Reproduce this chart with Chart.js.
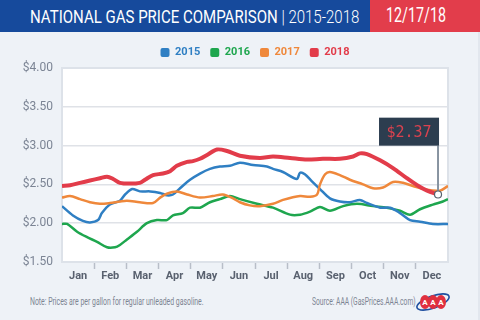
<!DOCTYPE html>
<html lang="en">
<head>
<meta charset="UTF-8">
<title>National Gas Price Comparison 2015-2018</title>
<script src="https://cdn.jsdelivr.net/npm/chart.js@4.4.1/dist/chart.umd.min.js"></script>
<style>
    body { margin: 0; width: 480px; height: 320px; background: #eef2f7; position: relative; overflow: hidden;
           font-family: "Roboto", "Noto Sans", sans-serif; }
    .edge { position: absolute; right: 0; top: 32px; width: 2px; height: 288px; background: #e2e7ee; }
    .header { position: absolute; left: 0; top: 0; width: 480px; height: 32px; background: #164a9c; }
    .header .title { position: absolute; left: 30px; top: 5px; color: #fff; font-size: 19px; white-space: nowrap;
                     transform: scaleX(0.79); transform-origin: left center; }
    .header .title span { font-weight: 300; }
    .header .date { position: absolute; right: 0; top: 0; width: 110px; height: 32px; background: #e23d4b; }
    .header .date-text { position: absolute; left: 386px; top: 3px; color: #fff; font-size: 21px; white-space: nowrap;
                         transform: scaleX(0.68); transform-origin: left center; }
    .chart-wrap { position: absolute; left: 0; top: 32px; width: 480px; height: 258px; }
    .note { position: absolute; left: 30px; top: 296px; font-size: 10px; color: #7d8593; white-space: nowrap;
            transform: scaleX(0.69); transform-origin: left center; }
    .source { position: absolute; left: 312px; top: 296px; font-size: 10px; color: #7d8593; white-space: nowrap;
              transform: scaleX(0.67); transform-origin: left center; }
    .logo { position: absolute; left: 414px; top: 290px; }
</style>
</head>
<body>
    <div class="edge"></div>
    <div class="header">
        <div class="title">NATIONAL GAS PRICE COMPARISON <span>| 2015-2018</span></div>
        <div class="date"></div>
        <div class="date-text">12/17/18</div>
    </div>
    <div class="chart-wrap"><canvas id="gasChart" width="480" height="258"></canvas></div>
    <div class="note">Note: Prices are per gallon for regular unleaded gasoline.</div>
    <div class="source">Source: AAA (GasPrices.AAA.com)</div>
    <svg class="logo" width="38" height="24" viewBox="0 0 38 24">
        <ellipse cx="19" cy="12" rx="17" ry="6" transform="rotate(-20 19 12)" fill="none" stroke="#1f4fa0" stroke-width="1.6"/>
        <ellipse cx="11" cy="12" rx="5" ry="7" fill="#e0303f"/>
        <ellipse cx="19" cy="12" rx="5" ry="7" fill="#e0303f"/>
        <ellipse cx="27" cy="12" rx="5" ry="7" fill="#e0303f"/>
        <text x="11" y="15" font-size="8" font-weight="bold" fill="#fff" text-anchor="middle">A</text>
        <text x="19" y="15" font-size="8" font-weight="bold" fill="#fff" text-anchor="middle">A</text>
        <text x="27" y="15" font-size="8" font-weight="bold" fill="#fff" text-anchor="middle">A</text>
    </svg>

<script>
// months along the x axis (0 = Jan 1, 12 = Dec 31)
const months = ['Jan', 'Feb', 'Mar', 'Apr', 'May', 'Jun', 'Jul', 'Aug', 'Sep', 'Oct', 'Nov', 'Dec'];
const yTicks = [1.5, 2.0, 2.5, 3.0, 3.5, 4.0];

// 2015
const t2015 = [0.00, 0.34, 0.65, 0.87, 1.12, 1.24, 1.49, 1.80, 1.96, 2.18, 2.42, 2.74, 3.05, 3.26, 3.45, 3.67, 3.98, 4.29, 4.60, 4.91, 5.22, 5.53, 5.94, 6.37, 6.56, 6.87, 7.30, 7.40, 7.55, 7.77, 8.02, 8.33, 8.64, 8.95, 9.26, 9.48, 9.89, 10.20, 10.51, 10.82, 11.13, 11.53, 12.00];
const p2015 = [2.22, 2.10, 2.03, 2.01, 2.04, 2.13, 2.24, 2.29, 2.37, 2.44, 2.41, 2.41, 2.39, 2.36, 2.37, 2.45, 2.56, 2.64, 2.70, 2.73, 2.74, 2.78, 2.75, 2.73, 2.70, 2.66, 2.57, 2.65, 2.63, 2.54, 2.44, 2.32, 2.28, 2.27, 2.30, 2.26, 2.20, 2.20, 2.13, 2.04, 2.02, 1.99, 1.99];

// 2016
const t2016 = [0.00, 0.16, 0.47, 0.78, 1.09, 1.40, 1.65, 1.80, 2.02, 2.33, 2.64, 2.95, 3.26, 3.45, 3.76, 3.98, 4.29, 4.60, 4.91, 5.22, 5.53, 6.06, 6.56, 7.09, 7.40, 7.71, 8.02, 8.33, 8.74, 9.17, 9.67, 10.10, 10.51, 10.82, 11.13, 11.53, 11.84, 12.00];
const p2016 = [1.99, 1.99, 1.89, 1.82, 1.76, 1.69, 1.69, 1.72, 1.79, 1.89, 2.00, 2.04, 2.04, 2.10, 2.13, 2.20, 2.20, 2.27, 2.31, 2.35, 2.31, 2.25, 2.20, 2.11, 2.11, 2.15, 2.21, 2.16, 2.22, 2.25, 2.22, 2.20, 2.16, 2.11, 2.18, 2.24, 2.28, 2.31];

// 2017
const t2017 = [0.00, 0.25, 0.56, 0.87, 1.18, 1.49, 1.80, 2.02, 2.42, 2.83, 3.05, 3.26, 3.57, 3.89, 4.29, 4.69, 5.00, 5.32, 5.53, 5.84, 6.15, 6.56, 6.87, 7.40, 7.71, 7.93, 8.02, 8.18, 8.33, 8.64, 8.95, 9.36, 9.67, 9.98, 10.29, 10.60, 10.91, 11.35, 11.75, 12.00];
const p2017 = [2.33, 2.35, 2.31, 2.27, 2.25, 2.26, 2.28, 2.29, 2.27, 2.26, 2.33, 2.38, 2.41, 2.37, 2.33, 2.35, 2.37, 2.32, 2.27, 2.23, 2.22, 2.25, 2.30, 2.35, 2.34, 2.37, 2.50, 2.63, 2.66, 2.62, 2.56, 2.50, 2.45, 2.46, 2.53, 2.52, 2.48, 2.43, 2.42, 2.48];

// 2018
const t2018 = [0.00, 0.25, 0.56, 0.87, 1.18, 1.40, 1.59, 1.80, 2.11, 2.42, 2.58, 2.83, 3.14, 3.36, 3.57, 3.89, 4.07, 4.29, 4.51, 4.82, 5.13, 5.53, 6.15, 6.56, 7.09, 7.62, 8.11, 8.64, 9.05, 9.26, 9.48, 9.89, 10.29, 10.72, 11.04, 11.35, 11.69];
const p2018 = [2.48, 2.49, 2.52, 2.55, 2.58, 2.60, 2.57, 2.52, 2.51, 2.52, 2.56, 2.62, 2.64, 2.67, 2.74, 2.79, 2.80, 2.83, 2.88, 2.95, 2.93, 2.87, 2.84, 2.86, 2.84, 2.82, 2.83, 2.83, 2.86, 2.90, 2.89, 2.81, 2.71, 2.58, 2.49, 2.42, 2.37];

const seriesColors = ['#2f7fc3', '#1ea64e', '#ef883b', '#e23c4a'];

const toPoints = (xs, ys) => xs.map((x, i) => ({ x: x, y: ys[i] }));
const FONT = '"Roboto", "Noto Sans", sans-serif';

// white plot area with a light frame
const plotFrame = {
    id: 'plotFrame',
    beforeDraw(chart) {
        const { ctx, chartArea: a } = chart;
        ctx.save();
        ctx.fillStyle = '#ffffff';
        ctx.fillRect(a.left, a.top, a.right - a.left, a.bottom - a.top);
        ctx.restore();
    },
    beforeDatasetsDraw(chart) {
        const { ctx, chartArea: a } = chart;
        ctx.save();
        ctx.strokeStyle = '#dde2e9';
        ctx.lineWidth = 2;
        ctx.strokeRect(a.left, a.top, a.right - a.left, a.bottom - a.top);
        ctx.restore();
    }
};

// "$2.37" flag on the last 2018 point
const priceFlag = {
    id: 'priceFlag',
    afterDatasetsDraw(chart) {
        const { ctx, scales } = chart;
        const last = t2018.length - 1;
        const px = scales.x.getPixelForValue(t2018[last]);
        const py = scales.y.getPixelForValue(p2018[last]);
        const boxTop = scales.y.getPixelForValue(3.36);
        const boxH = 28, boxW = 60;
        ctx.save();
        ctx.strokeStyle = '#8793a0';
        ctx.lineWidth = 2;
        ctx.beginPath();
        ctx.moveTo(px, boxTop + boxH);
        ctx.lineTo(px, py);
        ctx.stroke();
        ctx.fillStyle = '#2c3d4f';
        ctx.fillRect(px - boxW + 1, boxTop, boxW, boxH);
        ctx.fillStyle = '#d9424f';
        ctx.font = '15px "DejaVu Sans Mono", monospace';
        ctx.textAlign = 'center';
        ctx.textBaseline = 'middle';
        ctx.fillText('$' + p2018[last].toFixed(2), px - boxW / 2 + 1, boxTop + boxH / 2 + 1);
        ctx.beginPath();
        ctx.arc(px, py, 3.5, 0, Math.PI * 2);
        ctx.fillStyle = '#ffffff';
        ctx.fill();
        ctx.lineWidth = 1.2;
        ctx.strokeStyle = '#56606c';
        ctx.stroke();
        ctx.restore();
    }
};

const monthTicks = [];
for (let i = 0; i <= 24; i++) monthTicks.push(i / 2);

new Chart(document.getElementById('gasChart'), {
    type: 'line',
    data: {
        datasets: [
            { label: '2015', data: toPoints(t2015, p2015), borderColor: seriesColors[0], backgroundColor: seriesColors[0], borderWidth: 2.5, order: 2 },
            { label: '2016', data: toPoints(t2016, p2016), borderColor: seriesColors[1], backgroundColor: seriesColors[1], borderWidth: 2.5, order: 3 },
            { label: '2017', data: toPoints(t2017, p2017), borderColor: seriesColors[2], backgroundColor: seriesColors[2], borderWidth: 2.5, order: 1 },
            { label: '2018', data: toPoints(t2018, p2018), borderColor: seriesColors[3], backgroundColor: seriesColors[3], borderWidth: 4, order: 0 }
        ]
    },
    options: {
        responsive: false,
        animation: false,
        layout: { padding: { left: 14, right: 32, top: 5, bottom: 0 } },
        elements: { point: { radius: 0 }, line: { tension: 0.3 } },
        plugins: {
            tooltip: { enabled: false },
            legend: {
                position: 'top',
                fullSize: false,
                labels: {
                    boxWidth: 9,
                    boxHeight: 9,
                    padding: 10,
                    useBorderRadius: true,
                    borderRadius: 2,
                    font: { family: FONT, size: 11, weight: 'bold' },
                    sort: (a, b) => a.datasetIndex - b.datasetIndex,
                    generateLabels(chart) {
                        return chart.data.datasets.map((ds, i) => ({
                            text: ds.label,
                            fillStyle: ds.borderColor,
                            strokeStyle: ds.borderColor,
                            fontColor: ds.borderColor,
                            lineWidth: 0,
                            borderRadius: 2,
                            hidden: false,
                            datasetIndex: i
                        }));
                    }
                }
            }
        },
        scales: {
            x: {
                type: 'linear',
                min: 0,
                max: 12,
                afterBuildTicks: (scale) => { scale.ticks = monthTicks.map(v => ({ value: v })); },
                afterFit: (scale) => { scale.height = 28; },
                border: { display: false },
                grid: {
                    drawOnChartArea: false,
                    tickLength: 7,
                    tickWidth: 1.5,
                    tickColor: (c) => (c.tick && c.tick.value % 1 === 0 && c.tick.value > 0 && c.tick.value < 12) ? '#b8bec8' : 'rgba(0,0,0,0)'
                },
                ticks: {
                    autoSkip: false,
                    maxRotation: 0,
                    padding: 1,
                    color: '#59616f',
                    font: { family: FONT, size: 11, weight: 'bold' },
                    callback: (v) => (v % 1 === 0.5) ? months[Math.floor(v)] : ''
                }
            },
            y: {
                min: 1.5,
                max: 4,
                afterBuildTicks: (scale) => { scale.ticks = yTicks.map(v => ({ value: v })); },
                afterFit: (scale) => { scale.width = 48; },
                border: { display: false },
                grid: { color: '#dfe2e7', lineWidth: 1.5, drawTicks: false },
                ticks: {
                    padding: 9,
                    color: '#7b8494',
                    font: { family: FONT, size: 12 },
                    callback: (v) => '$' + v.toFixed(2)
                }
            }
        }
    },
    plugins: [plotFrame, priceFlag]
});
</script>
</body>
</html>
